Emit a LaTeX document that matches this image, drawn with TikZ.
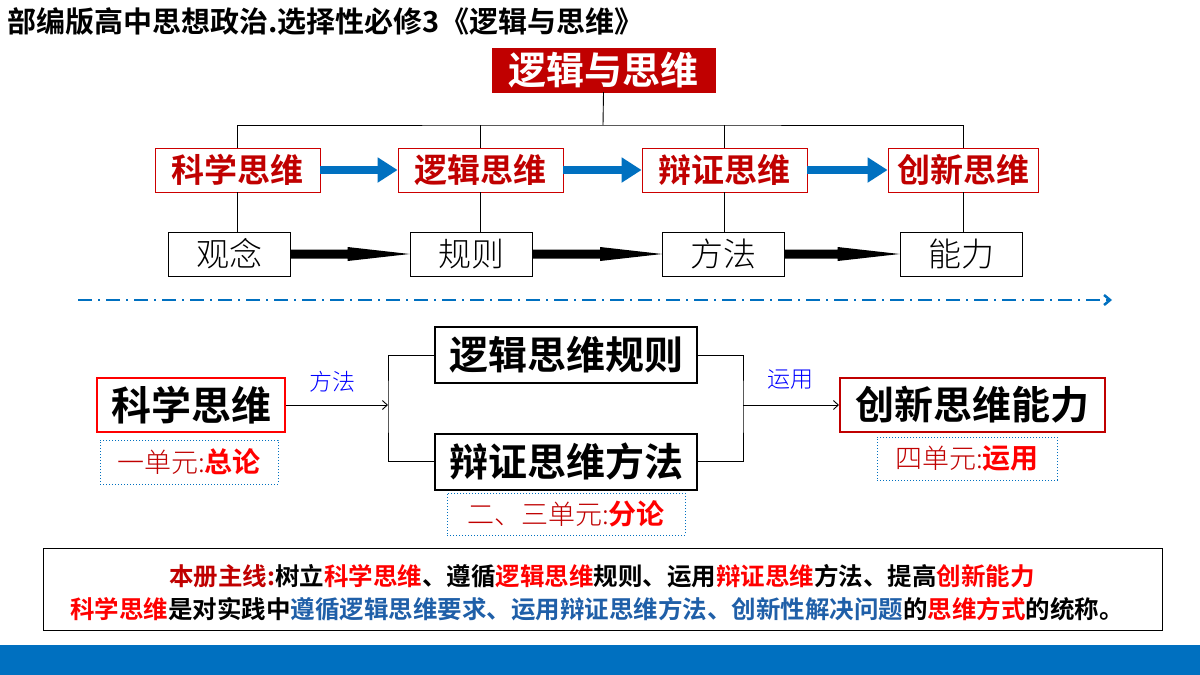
\documentclass[tikz,border=0pt]{standalone}
\usepackage{fontspec}
\setmainfont{Noto Sans CJK SC}
\newfontfamily\cjkbold{Noto Sans CJK SC Bold}
\newfontfamily\cjklight{Noto Sans CJK SC Light}
\usetikzlibrary{arrows.meta}
\definecolor{dred}{HTML}{C00000}
\definecolor{bred}{HTML}{FF0000}
\definecolor{mblue}{HTML}{0070C0}
\definecolor{tblue}{HTML}{1F5FA8}
\newcommand{\fsz}[1]{\fontsize{#1pt}{#1pt}\selectfont}
\begin{document}
\begin{tikzpicture}[x=1pt,y=-1pt,
 lvl/.style={draw=bred!80!black,line width=0.8pt,fill=white,minimum height=44pt,inner sep=0pt,font=\cjkbold\fsz{33},text=dred},
 low/.style={draw=black,line width=0.8pt,fill=white,minimum width=122pt,minimum height=44pt,inner sep=0pt,font=\cjklight\fsz{33}},
 big/.style={draw=black,line width=2pt,fill=white,minimum width=262pt,minimum height=56pt,inner sep=0pt,font=\cjkbold\fsz{39}},
 dotbox/.style={draw=mblue,dotted,line width=1pt,inner sep=0pt},
 conn/.style={line width=0.9pt},
 barr/.style={draw=mblue,line width=8pt,-{Triangle[length=20pt,width=24pt]}}]
\useasboundingbox (0,0) rectangle (1200,675);
\fill[white] (0,0) rectangle (1200,675);
\fill[mblue] (0,645) rectangle (1200,675);
\node[anchor=west,font=\cjkbold\fsz{29}] (title) at (4,22) {部编版高中思想政治.选择性必修3《逻辑与思维》};
\node[fill=dred,draw=dred,minimum width=223pt,minimum height=44pt,inner sep=0pt,text=white,font=\cjkbold\fsz{38}] (top) at (603.5,70) {逻辑与思维};
% level 1
\node[lvl,minimum width=165pt] (a1) at (237.5,170) {科学思维};
\node[lvl,minimum width=165pt] (a2) at (480.5,170) {逻辑思维};
\node[lvl,minimum width=165pt] (a3) at (724.5,170) {辩证思维};
\node[lvl,minimum width=150pt] (a4) at (963,170) {创新思维};
\coordinate (h) at (603,125);
\draw[conn] (top.south) -- (h);
\draw[conn] (a1.north) |- (h) -| (a4.north);
\draw[conn] (a2.north) -- (a2.north |- h);
\draw[conn] (a3.north) -- (a3.north |- h);
\draw[barr] (a1.east) -- (a2.west);
\draw[barr] (a2.east) -- (a3.west);
\draw[barr] (a3.east) -- (a4.west);
% level 2
\node[low] (b1) at (229,254) {观念};
\node[low] (b2) at (471,254) {规则};
\node[low] (b3) at (723.5,254) {方法};
\node[low] (b4) at (961,254) {能力};
\draw[conn] (a1.south) -- (a1.south |- b1.north);
\draw[conn] (a2.south) -- (a2.south |- b2.north);
\draw[conn] (a3.south) -- (a3.south |- b3.north);
\draw[conn] (a4.south) -- (a4.south |- b4.north);
\foreach \p/\q in {b1/b2,b2/b3,b3/b4}{
 \fill[black] ([yshift=-4.5pt]\p.east) -- ([xshift=-62pt,yshift=-4.5pt]\q.west) -- ([xshift=-62pt,yshift=-7pt]\q.west) -- (\q.west) -- ([xshift=-62pt,yshift=7pt]\q.west) -- ([xshift=-62pt,yshift=4.5pt]\q.west) -- ([yshift=4.5pt]\p.east) -- cycle;}
% dash-dot separator
\coordinate (d1) at (78,300);
\coordinate (d2) at (1112,300);
\draw[mblue,line width=2.5pt,dash pattern=on 14pt off 6pt on 2pt off 6pt,-{Straight Barb[length=6pt,width=10pt]}] (d1) -- (d2);
% lower diagram
\node[draw=bred,line width=2.5pt,fill=white,minimum width=188pt,minimum height=54pt,inner sep=0pt,font=\cjkbold\fsz{40}] (sci) at (191,405) {科学思维};
\node[big] (lr) at (566,355) {逻辑思维规则};
\node[big] (bz) at (566,461.5) {辩证思维方法};
\node[draw=dred,line width=2pt,fill=white,minimum width=265pt,minimum height=54pt,inner sep=0pt,font=\cjkbold\fsz{39}] (cx) at (972.5,405) {创新思维能力};
\coordinate (lj) at (388,405);
\coordinate (rj) at (743,405);
\draw[conn,-{Straight Barb[length=5pt,width=9pt]}] (sci.east) -- (lj);
\draw[conn] (lr.west) -| (lj) |- (bz.west);
\draw[conn] (lr.east) -| (rj) |- (bz.east);
\draw[conn,-{Straight Barb[length=5pt,width=9pt]}] (rj) -- (cx.west);
\node[text=blue,font=\cjklight\fsz{23}] (l1) at (332,382) {方法};
\node[text=blue,font=\cjklight\fsz{23}] (l2) at (790,380) {运用};
\node[dotbox,minimum width=178pt,minimum height=44pt] (u1) at (189,462) {\textcolor{dred}{\cjklight\fsz{27}一单元:}\textcolor{bred}{\cjkbold\fsz{28}总论}};
\node[dotbox,minimum width=238pt,minimum height=42pt] (u2) at (566,514) {\textcolor{dred}{\cjklight\fsz{27}二、三单元:}\textcolor{bred}{\cjkbold\fsz{28}分论}};
\node[dotbox,minimum width=180pt,minimum height=43pt] (u4) at (967,458.5) {\textcolor{dred}{\cjklight\fsz{27}四单元:}\textcolor{bred}{\cjkbold\fsz{28}运用}};
% bottom box
\node[draw=black,line width=1pt,minimum width=1119pt,minimum height=82pt,inner sep=0pt] (sum) at (602.5,589) {};
\node[font=\cjkbold\fsz{24.5}] (s1) at (602,576) {\textcolor{dred}{本册主线:}树立\textcolor{bred}{科学思维}、遵循\textcolor{bred}{逻辑思维}规则、运用\textcolor{bred}{辩证思维}方法、提高\textcolor{bred}{创新能力}};
\node[font=\cjkbold\fsz{24.5}] (s2) at (597,609) {\textcolor{bred}{科学思维}是对实践中\textcolor{tblue}{遵循逻辑思维要求、运用辩证思维方法、创新性解决问题}的\textcolor{bred}{思维方式}的统称。};
\end{tikzpicture}
\end{document}
